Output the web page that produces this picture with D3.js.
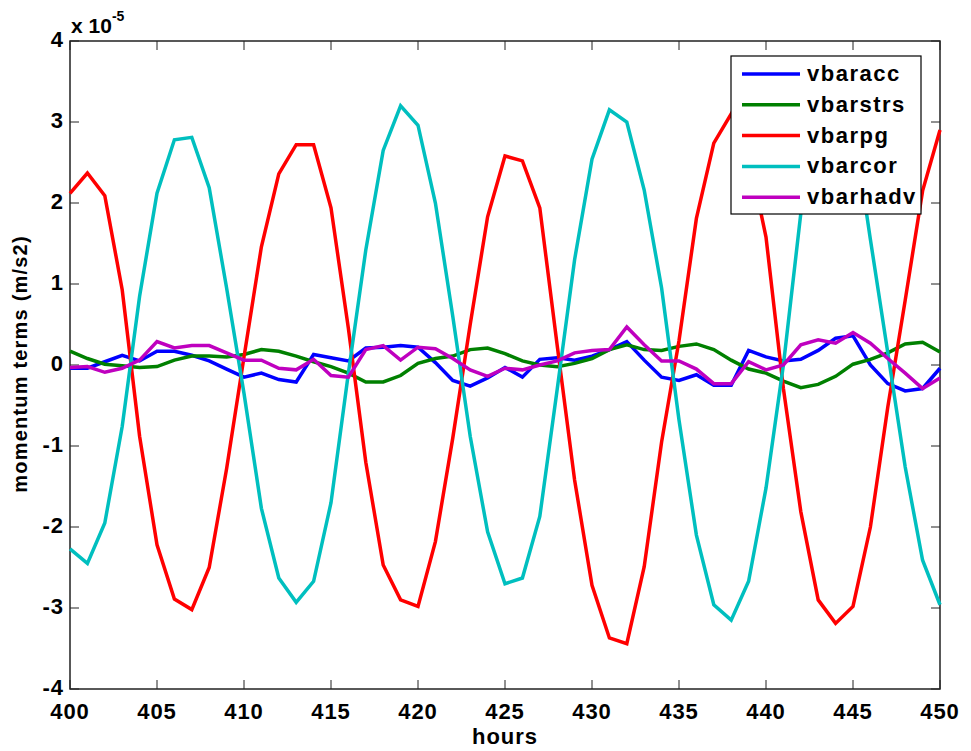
<!DOCTYPE html>
<html>
<head>
<meta charset="utf-8">
<script src="https://cdn.jsdelivr.net/npm/d3@7"></script>
<style>
html,body{margin:0;padding:0;background:#fff;}
svg text{font-family:"Liberation Sans",Arial,sans-serif;font-weight:bold;fill:#000;}
</style>
</head>
<body>
<svg id="chart" width="971" height="751"></svg>
<script>
// hours 400..450 (hourly)
const hours = d3.range(400, 451);
// values in units of 1e-5 m/s2
const vbaracc = [-0.04,-0.04,0.04,0.12,0.05,0.17,0.17,0.12,0.05,-0.05,-0.15,-0.10,-0.18,-0.21,0.13,0.09,0.05,0.21,0.22,0.24,0.22,0.03,-0.19,-0.26,-0.16,-0.03,-0.15,0.07,0.09,0.06,0.11,0.19,0.29,0.06,-0.15,-0.19,-0.12,-0.25,-0.25,0.18,0.10,0.05,0.07,0.18,0.33,0.36,0.00,-0.23,-0.32,-0.29,-0.04];
const vbarstrs = [0.17,0.08,0.01,-0.01,-0.03,-0.02,0.06,0.11,0.11,0.10,0.13,0.19,0.17,0.11,0.04,-0.02,-0.10,-0.21,-0.21,-0.13,0.02,0.08,0.11,0.19,0.21,0.14,0.05,0.00,-0.02,0.02,0.08,0.19,0.25,0.19,0.18,0.23,0.26,0.19,0.06,-0.05,-0.10,-0.20,-0.28,-0.24,-0.14,0.01,0.07,0.15,0.26,0.28,0.16];
const vbarpg = [2.12,2.37,2.09,0.93,-0.88,-2.22,-2.89,-3.02,-2.50,-1.28,0.10,1.46,2.36,2.72,2.72,1.94,0.45,-1.20,-2.47,-2.90,-2.98,-2.18,-0.90,0.50,1.83,2.58,2.52,1.94,0.24,-1.42,-2.72,-3.37,-3.44,-2.49,-0.95,0.30,1.81,2.74,3.10,2.60,1.58,-0.29,-1.81,-2.90,-3.19,-2.98,-2.00,-0.52,0.80,2.15,2.90];
const vbarcor = [-2.27,-2.45,-1.95,-0.76,0.85,2.12,2.78,2.81,2.19,0.95,-0.35,-1.77,-2.63,-2.93,-2.67,-1.70,-0.10,1.42,2.65,3.20,2.96,2.00,0.60,-0.88,-2.06,-2.70,-2.63,-1.87,-0.30,1.30,2.54,3.15,3.00,2.16,0.95,-0.68,-2.10,-2.96,-3.15,-2.67,-1.52,0.00,1.87,2.75,3.15,3.00,1.55,0.15,-1.26,-2.41,-2.96];
const vbarhadv = [-0.03,-0.02,-0.09,-0.04,0.06,0.29,0.21,0.24,0.24,0.15,0.06,0.06,-0.04,-0.06,0.07,-0.13,-0.15,0.19,0.24,0.06,0.22,0.20,0.08,-0.06,-0.14,-0.04,-0.06,0.00,0.05,0.15,0.18,0.19,0.47,0.25,0.05,0.05,-0.05,-0.23,-0.23,0.04,-0.06,0.00,0.25,0.31,0.27,0.40,0.27,0.08,-0.10,-0.29,-0.16];
const seriesNames = ["vbaracc","vbarstrs","vbarpg","vbarcor","vbarhadv"];
const seriesColors = ["#0000ff","#008000","#ff0000","#00bfbf","#bf00bf"];
const xTicks = d3.range(400, 451, 5);
const yTicks = [-4,-3,-2,-1,0,1,2,3,4];

const allSeries = [vbaracc, vbarstrs, vbarpg, vbarcor, vbarhadv];

const svg = d3.select("#chart");
const L = 70, R = 940, T = 41, B = 689;
const x = d3.scaleLinear().domain([400, 450]).range([L, R]);
const y = d3.scaleLinear().domain([-4, 4]).range([B, T]);

// axes box
const axisColor = "#222";
svg.append("rect").attr("x", L).attr("y", T).attr("width", R - L).attr("height", B - T)
  .attr("fill", "none").attr("stroke", axisColor).attr("stroke-width", 1.5);

const tickLen = 9;
// bottom & top ticks
xTicks.forEach(t => {
  svg.append("line").attr("x1", x(t)).attr("x2", x(t)).attr("y1", B).attr("y2", B - tickLen).attr("stroke", axisColor).attr("stroke-width", 1);
  svg.append("line").attr("x1", x(t)).attr("x2", x(t)).attr("y1", T).attr("y2", T + tickLen).attr("stroke", axisColor).attr("stroke-width", 1);
  svg.append("text").attr("x", x(t)).attr("y", B + 30).attr("text-anchor", "middle")
    .attr("font-size", 22).attr("letter-spacing", 1).text(t);
});
yTicks.forEach(t => {
  svg.append("line").attr("x1", L).attr("x2", L + tickLen).attr("y1", y(t)).attr("y2", y(t)).attr("stroke", axisColor).attr("stroke-width", 1);
  svg.append("line").attr("x1", R).attr("x2", R - tickLen).attr("y1", y(t)).attr("y2", y(t)).attr("stroke", axisColor).attr("stroke-width", 1);
  svg.append("text").attr("x", L - 6).attr("y", y(t) + 6).attr("text-anchor", "end")
    .attr("font-size", 22).attr("letter-spacing", 1).text(t);
});

// exponent label
const ex = svg.append("text").attr("x", L + 1).attr("y", 33).attr("font-size", 21);
ex.append("tspan").text("x 10");
ex.append("tspan").attr("font-size", 14).attr("dy", -12).text("-5");

// axis labels
svg.append("text").attr("x", 505).attr("y", 744).attr("text-anchor", "middle")
  .attr("font-size", 22).attr("letter-spacing", 1).text("hours");
svg.append("text").attr("transform", "translate(27,364) rotate(-90)").attr("text-anchor", "middle")
  .attr("font-size", 20).attr("letter-spacing", 1.2).text("momentum terms (m/s2)");

// lines
const line = d3.line().x((d, i) => x(hours[i])).y(d => y(d));
allSeries.forEach((s, k) => {
  svg.append("path").datum(s).attr("d", line).attr("fill", "none")
    .attr("stroke", seriesColors[k]).attr("stroke-width", 3.5).attr("stroke-linejoin", "miter");
});

// legend
const lg = svg.append("g");
lg.append("rect").attr("x", 731).attr("y", 56).attr("width", 190).attr("height", 158)
  .attr("fill", "#fff").attr("stroke", "#000").attr("stroke-width", 1.2);
seriesNames.forEach((n, k) => {
  const cy = 74 + k * 30.8;
  lg.append("line").attr("x1", 742).attr("x2", 800).attr("y1", cy).attr("y2", cy)
    .attr("stroke", seriesColors[k]).attr("stroke-width", 3.5);
  lg.append("text").attr("x", 807).attr("y", cy + 7).attr("font-size", 22).attr("letter-spacing", 1.5).text(n);
});
</script>
</body>
</html>
